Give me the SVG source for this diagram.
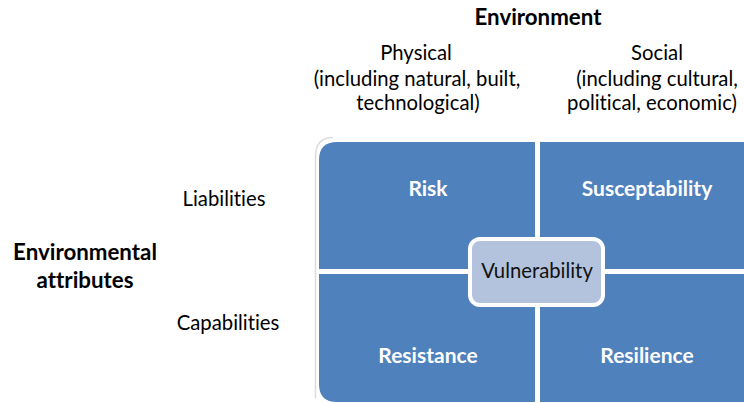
<svg xmlns="http://www.w3.org/2000/svg" width="744" height="403" viewBox="0 0 744 403">
<style>
  text { font-family: Lato, "Liberation Sans", sans-serif; font-variant-ligatures: none; }
  .hdr { font-size: 20.3px; fill: #000; text-anchor: middle; }
  .bold { font-size: 22.3px; font-weight: bold; fill: #000; text-anchor: middle; }
  .quad { fill: #4f81bd; }
  .qlabel { font-size: 21px; font-weight: bold; fill: #fff; text-anchor: middle; }
  .vlabel { font-size: 20.3px; fill: #111; text-anchor: middle; }
</style>
<rect width="744" height="403" fill="#fff"/>
<g id="headings">
  <text class="bold" x="538" y="25">Environment</text>
  <text class="hdr" x="416" y="60">Physical</text>
  <text class="hdr" x="417" y="86">(including natural, built,</text>
  <text class="hdr" x="418" y="110">technological)</text>
  <text class="hdr" x="657" y="60">Social</text>
  <text class="hdr" x="657" y="86">(including cultural,</text>
  <text class="hdr" x="652" y="110">political, economic)</text>
  <text class="hdr" x="224" y="206">Liabilities</text>
  <text class="hdr" x="228" y="330">Capabilities</text>
  <text class="bold" x="85" y="260">Environmental</text>
  <text class="bold" x="85" y="288">attributes</text>
</g>
<path d="M315.5 398 V157 Q315.5 137.5 333 137.5" fill="none" stroke="#dcdcdc" stroke-width="1.5"/>
<g id="risk">
  <path class="quad" d="M319 160 Q319 142 337 142 H535 V269 H319 Z"/>
  <text class="qlabel" x="428" y="196">Risk</text>
</g>
<g id="susceptability">
  <path class="quad" d="M540 142 H760 V269 H540 Z"/>
  <text class="qlabel" x="647" y="196">Susceptability</text>
</g>
<g id="resistance">
  <path class="quad" d="M319 274 H535 V402 H337 Q319 402 319 384 Z"/>
  <text class="qlabel" x="428" y="363">Resistance</text>
</g>
<g id="resilience">
  <path class="quad" d="M540 274 H760 V402 H540 Z"/>
  <text class="qlabel" x="647" y="363">Resilience</text>
</g>
<g id="vulnerability">
  <rect x="470" y="239" width="133" height="66" rx="10" fill="#b3c3dd" stroke="#fff" stroke-width="4"/>
  <text class="vlabel" x="537" y="278">Vulnerability</text>
</g>
</svg>
